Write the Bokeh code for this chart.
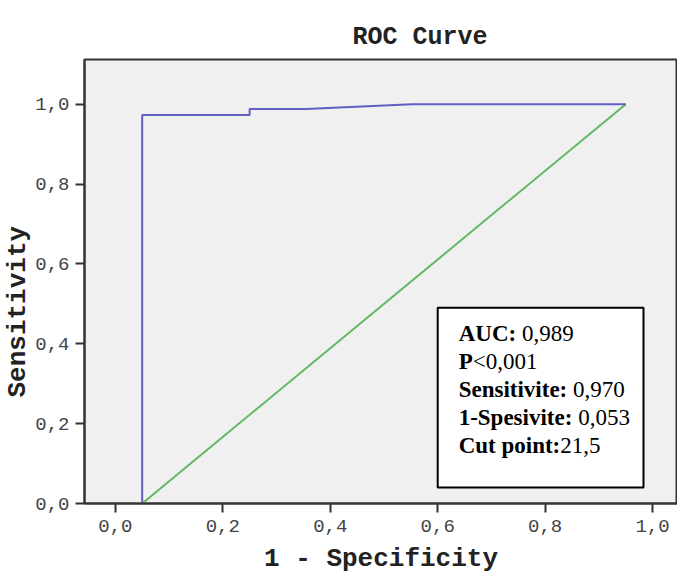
from bokeh.plotting import figure
from bokeh.models import (FixedTicker, CustomJSTickFormatter, Title,
                          BoxAnnotation, Label, Range1d)
from bokeh.embed import file_html
from bokeh.resources import INLINE

# ---- data ----
roc_fpr = [0.05, 0.05, 0.25, 0.25, 0.355, 0.552, 0.95]
roc_tpr = [0.0, 0.973, 0.973, 0.988, 0.988, 1.0, 1.0]
ref_x = [0.05, 0.95]
ref_y = [0.0, 1.0]
tick_values = [0.0, 0.2, 0.4, 0.6, 0.8, 1.0]
stats_bold = ["AUC:", "P", "Sensitivite:", "1-Spesivite:", "Cut point:"]
stats_value = ["0,989", "<0,001", "0,970", "0,053", "21,5"]
stats_space = [True, False, True, True, False]

# approximate advance widths (per em) of Times/Liberation Serif Bold
BOLD_W = {"A": .722, "U": .722, "C": .722, ":": .333, " ": .25, "P": .611,
          "S": .556, "e": .444, "n": .556, "s": .389, "i": .278, "t": .333,
          "v": .5, "1": .5, "-": .333, "p": .556, "u": .556, "o": .5}

MONO = "Liberation Mono"
SERIF = "Liberation Serif"

p = figure(width=677, height=576, output_backend="svg", toolbar_location=None,
           x_range=Range1d(-0.0574, 1.0463), y_range=Range1d(0.0, 1.112),
           min_border_left=81, min_border_right=0, min_border_top=59,
           min_border_bottom=70,
           background_fill_color="#f0f0f0", border_fill_color="white",
           outline_line_color="#333333", outline_line_width=2)

p.title.text = "ROC Curve"
p.title.text_font = MONO
p.title.text_font_style = "bold"
p.title.text_font_size = "25px"
p.title.text_color = "#222222"
p.title.align = "left"
p.title.offset = 268
p.title.standoff = 15

p.xgrid.visible = False
p.ygrid.visible = False

fmt = CustomJSTickFormatter(code="return tick.toFixed(1).replace('.', ',');")
for ax in (p.xaxis[0], p.yaxis[0]):
    ax.ticker = FixedTicker(ticks=tick_values)
    ax.formatter = fmt
    ax.minor_tick_line_color = None
    ax.major_tick_in = 0
    ax.major_tick_out = 9
    ax.major_tick_line_width = 2
    ax.major_tick_line_color = "#333333"
    ax.axis_line_width = 2
    ax.axis_line_color = "#333333"
    ax.major_label_text_font = MONO
    ax.major_label_text_font_size = "19px"
    ax.major_label_text_color = "#444444"

p.xaxis.axis_label = "1 - Specificity"
p.xaxis.axis_label_text_font = MONO
p.xaxis.axis_label_text_font_style = "bold"
p.xaxis.axis_label_text_font_size = "26px"
p.xaxis.axis_label_text_color = "#222222"
p.xaxis.major_label_standoff = 7
p.xaxis.axis_label_standoff = 9
p.yaxis.major_label_standoff = 6

# y-axis title as a side title so that it can be shifted along the axis
ytitle = Title(text="Sensitivity", text_font=MONO, text_font_style="bold",
               text_font_size="26px", text_color="#222222",
               align="left", offset=106, standoff=0)
p.add_layout(ytitle, "left")

p.line(ref_x, ref_y, line_color="#62b862", line_width=2)
p.line(roc_fpr, roc_tpr, line_color="#5f5fc4", line_width=2)

box = BoxAnnotation(left=0.6, right=0.983, bottom=0.04, top=0.49,
                    fill_color="white", fill_alpha=1.0,
                    line_color="black", line_alpha=1.0, line_width=2)
p.add_layout(box)

fs = 23
x0 = 0.639
y_lines = [0.4247, 0.355, 0.285, 0.215, 0.146]
for b, v, sp, y in zip(stats_bold, stats_value, stats_space, y_lines):
    p.add_layout(Label(x=x0, y=y, text=b, text_font=SERIF, text_font_style="bold",
                       text_font_size=f"{fs}px", text_baseline="middle",
                       text_color="black"))
    w = sum(BOLD_W.get(c, 0.5) for c in b) * fs + (0.25 * fs if sp else 0)
    p.add_layout(Label(x=x0, y=y, x_offset=w, text=v, text_font=SERIF,
                       text_font_size=f"{fs}px", text_baseline="middle",
                       text_color="black"))

open("out.html", "w").write(file_html(p, INLINE))
